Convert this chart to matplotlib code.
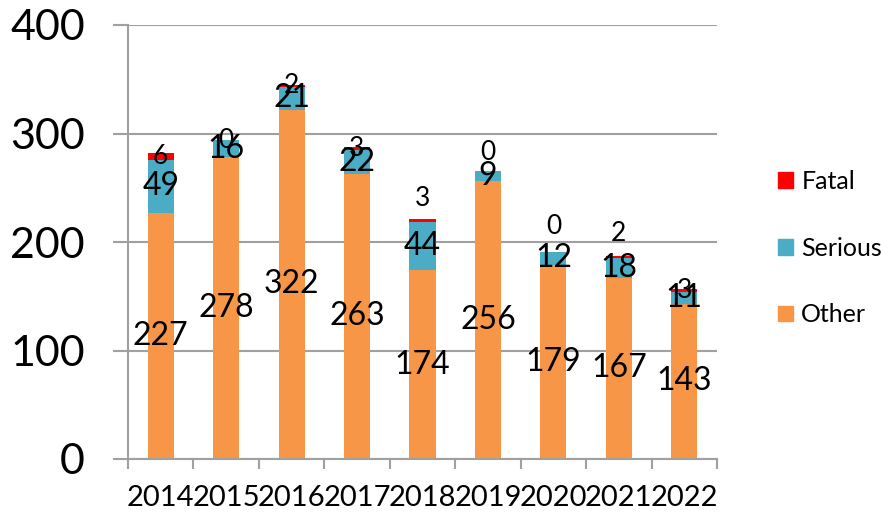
import matplotlib
matplotlib.use("Agg")
import matplotlib.pyplot as plt
import numpy as np
from matplotlib.patches import Patch

plt.rcParams['font.family'] = ['Lato', 'DejaVu Sans']

years = ["2014", "2015", "2016", "2017", "2018", "2019", "2020", "2021", "2022"]
other = [227, 278, 322, 263, 174, 256, 179, 167, 143]
serious = [49, 16, 21, 22, 44, 9, 12, 18, 11]
fatal = [6, 0, 2, 3, 3, 0, 0, 2, 3]

c_other = "#F79646"
c_serious = "#4BACC6"
c_fatal = "#FF0000"

fig = plt.figure(figsize=(8.81, 5.16), dpi=100)
ax = fig.add_axes([128/881, 1-459/516, (717-128)/881, (459-25)/516])

x = np.arange(len(years))
w = 0.4
other_a = np.array(other)
serious_a = np.array(serious)
fatal_a = np.array(fatal)

ax.bar(x, other_a, w, color=c_other, zorder=2)
ax.bar(x, serious_a, w, bottom=other_a, color=c_serious, zorder=2)
ax.bar(x, fatal_a, w, bottom=other_a + serious_a, color=c_fatal, zorder=2)

# labels
fatal_shift = [0, 0, 0, 0, 22, 19, 25, 24, 0]  # pixel offsets (label placement)
for i in range(len(years)):
    ax.text(x[i], other_a[i] / 2, str(other[i]), ha='center', va='center',
            fontsize=23, color='black', zorder=5)
    ax.text(x[i], other_a[i] + serious_a[i] / 2, str(serious[i]), ha='center',
            va='center', fontsize=23, color='black', zorder=5)
    ax.annotate(str(fatal[i]), (x[i], other_a[i] + serious_a[i] + fatal_a[i] / 2),
                xytext=(0, fatal_shift[i] * 0.72), textcoords='offset points',
                ha='center', va='center', fontsize=19, color='black', zorder=6)

ax.set_xlim(-0.5, len(years) - 0.5)
ax.set_ylim(0, 400)
ax.set_yticks([0, 100, 200, 300, 400])
ax.tick_params(axis='y', labelsize=31, length=11, width=1.5, color='#a0a0a0', pad=20)
ax.set_xticks(x)
ax.set_xticklabels(years, fontsize=21)
ax.set_xticks(np.arange(-0.5, len(years)), minor=True)
ax.tick_params(axis='x', which='major', length=0, pad=19)
ax.tick_params(axis='x', which='minor', length=7, width=1.5, color='#a0a0a0')

ax.yaxis.grid(True, color='#a0a0a0', linewidth=1.5, zorder=0)
ax.set_axisbelow(True)
for s in ['top', 'right']:
    ax.spines[s].set_visible(False)
for s in ['left', 'bottom']:
    ax.spines[s].set_color('#a0a0a0')
    ax.spines[s].set_linewidth(1.5)

handles = [Patch(color=c_fatal, label='Fatal'),
           Patch(color=c_serious, label='Serious'),
           Patch(color=c_other, label='Other')]
fig.legend(handles=handles, loc='center left', bbox_to_anchor=(770/881, 1-248/516),
           frameon=False, fontsize=18, handlelength=0.6, handleheight=0.6,
           handletextpad=0.35, labelspacing=1.75, borderaxespad=0, borderpad=0.3)

fig.savefig("out.png", dpi=100)
